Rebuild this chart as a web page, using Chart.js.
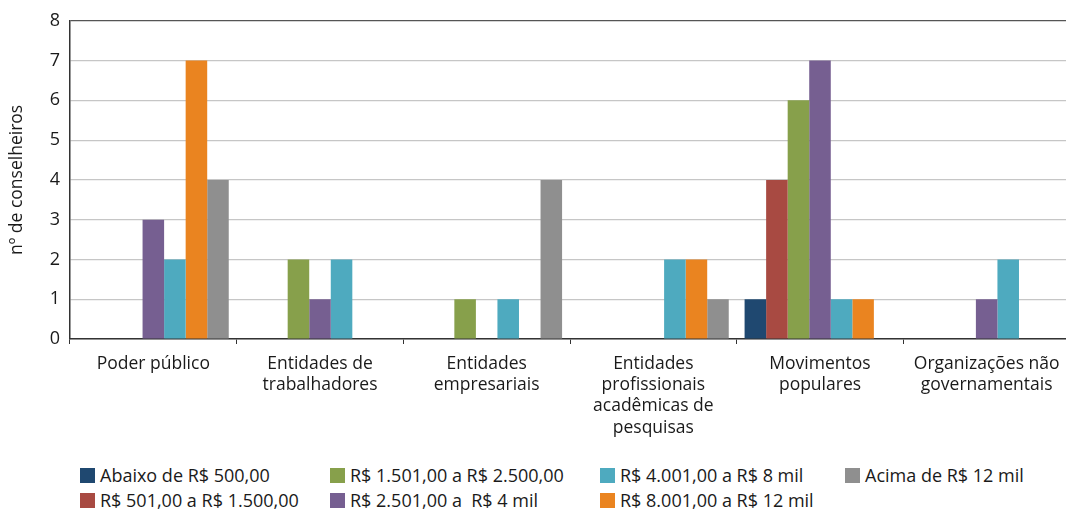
<!DOCTYPE html>
<html>
<head>
<meta charset="utf-8">
<script src="https://cdn.jsdelivr.net/npm/chart.js@4/dist/chart.umd.min.js"></script>
<style>
  html, body { margin: 0; padding: 0; background: #fff; overflow: hidden; }
  body { width: 1066px; height: 510px; position: relative; font-family: 'Open Sans', sans-serif; }
  #wrap { position: absolute; left: 0; top: 0; width: 1072px; height: 456px; }
  #legend { position: absolute; left: 0; top: 462px; width: 1066px; height: 48px; }
  .item { position: absolute; font-size: 18px; color: #1a1a1a; white-space: pre; line-height: 22px; }
  .item span { display: inline-block; width: 15px; height: 15px; margin-right: 5px; vertical-align: -1px; }
</style>
</head>
<body>
<div id="wrap"><canvas id="chart" width="1072" height="456"></canvas></div>
<div id="legend"></div>
<script>
// categorias
const categories = [
  ['Poder público'],
  ['Entidades de', 'trabalhadores'],
  ['Entidades', 'empresariais'],
  ['Entidades', 'profissionais', 'acadêmicas de', 'pesquisas'],
  ['Movimentos', 'populares'],
  ['Organizações não', 'governamentais']
];

// faixas de renda
const seriesNames = [
  'Abaixo de R$ 500,00',
  'R$ 501,00 a R$ 1.500,00',
  'R$ 1.501,00 a R$ 2.500,00',
  'R$ 2.501,00 a  R$ 4 mil',
  'R$ 4.001,00 a R$ 8 mil',
  'R$ 8.001,00 a R$ 12 mil',
  'Acima de R$ 12 mil'
];
const seriesColors = ['#1f4870', '#a84a42', '#87a04b', '#765f91', '#4eaabf', '#ea8420', '#8f8f8f'];

// valores por faixa (uma posição por categoria)
const abaixo500   = [0, 0, 0, 0, 1, 0];
const de501a1500  = [0, 0, 0, 0, 4, 0];
const de1501a2500 = [0, 2, 1, 0, 6, 0];
const de2501a4mil = [3, 1, 0, 0, 7, 1];
const de4001a8mil = [2, 2, 1, 2, 1, 2];
const de8001a12mil = [7, 0, 0, 2, 1, 0];
const acima12mil  = [4, 0, 4, 1, 0, 0];

const yTicks = [0, 1, 2, 3, 4, 5, 6, 7, 8];

const seriesValues = [abaixo500, de501a1500, de1501a2500, de2501a4mil, de4001a8mil, de8001a12mil, acima12mil];

const datasets = seriesValues.map((vals, i) => ({
  label: seriesNames[i],
  data: vals,
  backgroundColor: seriesColors[i],
  borderWidth: 0,
  categoryPercentage: 0.905,
  barPercentage: 1.0
}));

const ctx = document.getElementById('chart').getContext('2d');
new Chart(ctx, {
  type: 'bar',
  data: { labels: categories, datasets: datasets },
  options: {
    responsive: false,
    animation: false,
    layout: { padding: { left: 0, right: 2, top: 14, bottom: 0 } },
    plugins: {
      legend: { display: false },
      tooltip: { enabled: false }
    },
    scales: {
      x: {
        grid: {
          offset: true,
          drawOnChartArea: false,
          drawTicks: true,
          tickLength: 5,
          color: '#333'
        },
        border: { color: '#333', width: 1.5 },
        ticks: {
          color: '#1a1a1a',
          font: { family: 'Open Sans', size: 17.5, lineHeight: 1.22 },
          padding: 9,
          maxRotation: 0,
          autoSkip: false
        },
        afterFit: function(scale) { scale.height = 456 - 339; }
      },
      y: {
        min: 0,
        max: 8,
        afterBuildTicks: function(scale) { scale.ticks = yTicks.map(v => ({ value: v })); },
        grid: {
          drawTicks: false,
          color: ctx => ctx.tick && ctx.tick.value === 8 ? '#555' : '#c6c6c6',
          lineWidth: 1.2
        },
        border: { color: '#333', width: 1.5 },
        ticks: {
          color: '#1a1a1a',
          font: { family: 'Open Sans', size: 18 },
          padding: 10
        },
        title: {
          display: true,
          text: 'nº de conselheiros',
          color: '#1a1a1a',
          font: { family: 'Open Sans', size: 17.5 },
          padding: { top: 7, bottom: 3 }
        },
        afterFit: function(scale) { scale.width = 70; }
      }
    }
  }
});

// legenda em 4 colunas, preenchida por coluna
const legendCols = [80, 330, 600, 845];
const legendRows = [2, 27];
const legendEl = document.getElementById('legend');
seriesNames.forEach((name, i) => {
  const col = Math.floor(i / 2);
  const row = i % 2;
  const item = document.createElement('div');
  item.className = 'item';
  item.style.left = legendCols[col] + 'px';
  item.style.top = legendRows[row] + 'px';
  const sw = document.createElement('span');
  sw.style.background = seriesColors[i];
  item.appendChild(sw);
  item.appendChild(document.createTextNode(name));
  legendEl.appendChild(item);
});
</script>
</body>
</html>
